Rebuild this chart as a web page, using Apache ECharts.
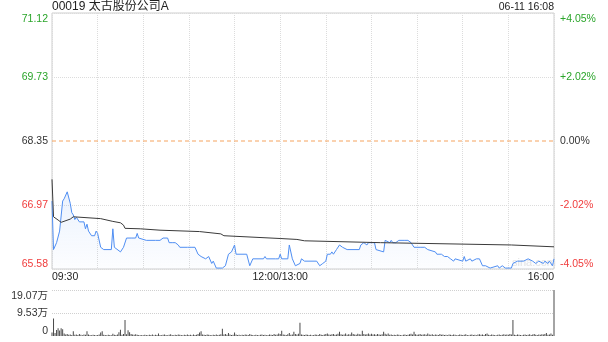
<!DOCTYPE html>
<html><head><meta charset="utf-8">
<script src="https://cdn.jsdelivr.net/npm/echarts@6/dist/echarts.min.js"></script>
<style>html,body{margin:0;padding:0;background:#fff}#c{width:608px;height:342px}</style>
</head><body><div id="c"></div>
<script>
const stockTitle = '00019 太古股份公司A';
const stampText = '06-11 16:08';
const preClose = 68.35;
const priceMin = 65.58, priceMax = 71.12;
const leftLabels = ['65.58', '66.97', '68.35', '69.73', '71.12'];
const rightLabels = ['-4.05%', '-2.02%', '0.00%', '+2.02%', '+4.05%'];
const volLabels = ['0', '9.53万', '19.07万'];
const volMax = 19.07;
const timeTicks = [0, 150, 330];
const timeLabels = ['09:30', '12:00/13:00', '16:00'];

const priceT = [0,1,3,5,7,8,10,11,12,13,14,15,16,18,21,22,23,24,26,28,29,30,32,34,39,40,41,45,47,49,52,55,56,57,62,68,71,73,76,77,79,81,83,84,89,92,94,96,98,101,103,105,106,108,112,114,116,118,120,121,128,130,132,139,140,141,147,149,150,151,155,156,158,160,163,164,166,174,176,178,180,181,183,184,185,187,189,190,191,194,202,203,205,207,208,212,213,218,219,222,223,224,226,228,232,234,236,238,242,245,247,252,253,256,258,260,262,264,265,270,271,272,275,276,279,281,283,285,288,293,294,296,298,302,303,306,310,313,316,318,320,323,324,326,327,329,330];
const priceV = [67.05,66.00,66.15,66.40,67.05,67.10,67.25,67.25,67.00,66.80,66.75,66.65,66.70,66.60,66.60,66.45,66.55,66.40,66.30,66.30,66.40,66.35,66.05,66.00,66.00,66.45,66.05,65.95,66.05,66.25,66.25,66.25,66.35,66.25,66.20,66.20,66.20,66.25,66.25,66.15,66.15,66.15,66.10,66.05,66.05,66.05,66.05,65.90,65.85,65.80,65.85,65.70,65.75,65.60,65.60,65.65,65.90,65.95,66.10,65.90,65.90,65.65,65.80,65.80,65.85,65.80,65.80,65.80,65.90,65.80,65.80,66.10,65.80,65.65,65.70,65.80,65.75,65.75,65.65,65.70,65.75,65.90,65.90,65.95,65.90,66.00,66.10,66.10,66.05,66.00,66.00,66.10,66.15,66.10,66.15,66.15,66.00,65.95,66.20,66.15,66.20,66.15,66.15,66.20,66.20,66.20,66.15,66.05,66.05,66.05,66.00,65.95,65.90,65.90,65.85,65.85,65.80,65.75,65.80,65.75,65.85,65.75,65.80,65.75,65.80,65.80,65.65,65.65,65.60,65.65,65.60,65.65,65.60,65.60,65.70,65.75,65.75,65.80,65.75,65.70,65.75,65.70,65.75,65.70,65.75,65.65,65.80];

const avgT = [0,1,4,6,7,12,14,32,40,45,47,48,58,71,97,111,113,150,161,166,216,302,303,330];
const avgV = [67.52,66.71,66.64,66.59,66.63,66.66,66.71,66.67,66.61,66.58,66.53,66.46,66.45,66.42,66.39,66.34,66.30,66.24,66.22,66.19,66.15,66.10,66.08,66.06];

// per-minute volume, in 万 shares (index = minutes since 09:30, lunch removed)
const volumes = [
1.5,7.3,1.2,2.5,3.2,2.3,3.2,2.8,1.0,0.6,0.8,0.5,0.6,0.4,2.0,0.5,0.6,0.4,0.8,0.5,0.3,0.6,0.5,2.0,0.6,0.4,0.3,0.5,0.4,0.3,
0.4,0.6,1.4,2.0,0.5,0.4,0.3,0.5,0.4,0.3,0.9,0.5,0.4,0.6,1.6,2.6,0.5,0.8,6.6,0.7,2.4,1.6,0.8,0.6,0.5,0.7,0.5,0.4,0.3,0.4,
0.3,0.5,0.4,0.3,0.5,0.4,0.6,0.3,0.5,0.4,1.0,0.4,0.3,0.5,0.6,0.4,0.3,0.5,0.7,0.4,0.3,0.5,0.4,0.6,0.5,0.4,0.3,0.5,0.4,0.6,
0.4,0.5,0.3,0.6,0.4,0.5,0.8,1.5,2.0,0.6,0.5,0.4,0.6,0.5,0.4,0.3,0.5,0.4,0.6,0.4,0.5,0.7,3.0,0.6,0.8,0.5,1.2,0.6,0.4,0.5,
1.5,0.6,0.4,0.5,0.3,0.5,0.4,0.6,0.5,0.4,0.8,0.5,0.4,0.3,0.5,0.4,0.3,0.5,0.6,0.4,0.5,0.3,0.4,0.6,0.5,0.4,0.8,0.5,0.6,1.0,
0.8,2.2,0.6,0.5,0.4,0.7,1.2,0.5,0.6,1.8,0.8,0.6,0.9,5.5,0.6,0.5,0.4,0.6,0.5,0.4,0.5,0.3,0.4,0.6,0.5,0.4,0.8,0.5,0.4,0.6,
0.8,1.0,0.6,0.5,0.7,0.8,0.5,0.6,0.9,1.8,0.7,0.5,0.6,1.0,0.5,0.7,0.6,1.5,0.8,0.6,0.5,0.9,0.7,0.6,2.2,0.8,0.6,0.7,1.0,0.6,
0.9,0.6,0.7,0.5,0.8,0.6,0.5,0.7,1.8,0.9,0.6,1.0,0.5,0.6,0.4,0.5,0.4,0.6,0.5,0.4,0.3,0.5,0.6,0.4,0.5,0.7,0.9,0.6,1.8,0.7,
0.5,0.6,0.8,0.5,0.6,0.7,0.5,1.0,0.6,0.5,0.7,0.4,0.6,0.5,0.4,0.8,0.5,0.6,0.4,0.5,0.3,0.6,0.5,0.4,0.6,0.5,0.3,0.4,0.6,0.5,
0.4,0.5,0.7,0.4,0.3,0.5,0.6,0.4,0.5,0.3,0.6,0.7,0.5,0.6,0.4,0.8,1.0,0.5,0.4,0.6,0.5,0.4,0.3,0.5,0.6,0.4,0.5,0.7,0.5,0.6,
0.5,0.8,0.6,6.6,0.5,0.4,0.6,0.5,0.4,0.3,0.5,0.6,0.4,0.5,0.7,0.4,0.6,0.8,0.5,0.4,0.6,0.5,0.7,0.6,0.8,1.2,0.5,0.6,1.0,0.5,
19.07
];

const FONT = '"Liberation Sans", Arial, "Noto Sans CJK SC", sans-serif';
const GREEN = '#2aa52a', RED = '#f03c3c', DARK = '#333333';

function richFor(color) {
  return { fontSize: 10.5, fontFamily: FONT, color: color };
}
const rich = {};
[['g', GREEN], ['r', RED], ['k', DARK]].forEach(([k, c]) => {
  rich['t' + k] = Object.assign(richFor(c), { padding: [12, 0, 0, 0] });
  rich['b' + k] = Object.assign(richFor(c), { padding: [0, 0, 10, 0] });
  rich['m' + k] = richFor(c);
});
function ck(i) { return i > 2 ? 'g' : (i < 2 ? 'r' : 'k'); }
function fmtPrice(labels, last) {
  return function (v) {
    const i = Math.round(v);
    const pos = i === last ? 't' : (i === 0 ? 'b' : 'm');
    return '{' + pos + ck(i) + '|' + labels[i] + '}';
  };
}
function fmtVol(v) {
  const i = Math.round(v);
  const pos = i === 2 ? 't' : (i === 0 ? 'b' : 'm');
  return '{' + pos + 'k|' + volLabels[i] + '}';
}
const volRich = {
  tk: { fontSize: 10.5, fontFamily: FONT, color: DARK, padding: [12, 0, 0, 0] },
  bk: { fontSize: 10.5, fontFamily: FONT, color: DARK, padding: [0, 0, 9, 0] },
  mk: { fontSize: 10.5, fontFamily: FONT, color: DARK }
};

const priceData = priceT.map((t, i) => [t, priceV[i]]);
const avgData = avgT.map((t, i) => [t, avgV[i]]);
const volData = volumes.map((v, i) => [i, v]);
const preCloseData = [[timeTicks[0], preClose], [timeTicks[timeTicks.length - 1], preClose]];

const chart = echarts.init(document.getElementById('c'), null, { renderer: 'canvas' });
chart.setOption({
  animation: false,
  textStyle: { fontFamily: FONT },
  title: [
    { text: stockTitle, left: 52, top: 1, padding: 0,
      textStyle: { fontSize: 12, fontWeight: 'normal', color: '#222', fontFamily: FONT } },
    { text: stampText, right: 54, top: 2, padding: 0,
      textStyle: { fontSize: 10.5, fontWeight: 'normal', color: '#222', fontFamily: FONT } }
  ],
  graphic: [
    { type: 'text', left: 512, top: 257, z: 0, silent: true,
      style: { text: 'sina.com', fill: '#e4e4e4', font: '11px ' + FONT } }
  ],
  grid: [
    { left: 52, top: 13, width: 502, height: 256, show: true, borderColor: '#cfcfcf', borderWidth: 1, backgroundColor: 'transparent' },
    { left: 52, top: 290, width: 502, height: 46 }
  ],
  xAxis: [
    { type: 'value', gridIndex: 0, min: 0, max: 330, interval: 30,
      axisLine: { show: false }, axisTick: { show: false },
      splitLine: { show: true, lineStyle: { color: '#dcdcdc', type: 'dotted', width: 1 } },
      axisLabel: {
        margin: 3, fontSize: 10.5, color: '#222', fontFamily: FONT,
        alignMinLabel: 'left', alignMaxLabel: 'right',
        formatter: v => { const i = timeTicks.indexOf(v); return i >= 0 ? timeLabels[i] : ''; }
      } },
    { type: 'value', gridIndex: 1, min: 0, max: 330, show: false }
  ],
  yAxis: [
    { type: 'value', gridIndex: 0, min: priceMin, max: priceMax, show: false, position: 'left' },
    { type: 'value', gridIndex: 0, min: 0, max: 4, interval: 1, position: 'left',
      axisLine: { show: false }, axisTick: { show: false },
      splitLine: { show: true, lineStyle: { color: ['#dcdcdc', '#dcdcdc', 'rgba(0,0,0,0)', '#dcdcdc', '#dcdcdc'], type: 'dotted' } },
      axisLabel: { margin: 4, rich: rich, formatter: fmtPrice(leftLabels, 4) } },
    { type: 'value', gridIndex: 0, min: 0, max: 4, interval: 1, position: 'right',
      axisLine: { show: false }, axisTick: { show: false }, splitLine: { show: false },
      axisLabel: { margin: 6, rich: rich, formatter: fmtPrice(rightLabels, 4) } },
    { type: 'value', gridIndex: 1, min: 0, max: volMax, show: false, position: 'left' },
    { type: 'value', gridIndex: 1, min: 0, max: 2, interval: 1, position: 'left',
      axisLine: { show: false }, axisTick: { show: false },
      splitLine: { show: true, lineStyle: { color: ['rgba(0,0,0,0)', '#d0d0d0', '#d0d0d0'], type: 'dotted' } },
      axisLabel: { margin: 4, rich: volRich, formatter: fmtVol } }
  ],
  series: [
    { type: 'line', name: 'preClose', xAxisIndex: 0, yAxisIndex: 0, data: preCloseData,
      showSymbol: false, symbol: 'none', z: 2, silent: true,
      lineStyle: { color: '#f5a35f', type: [4, 3], width: 1 } },
    { type: 'line', name: 'price', xAxisIndex: 0, yAxisIndex: 0, data: priceData,
      showSymbol: false, symbol: 'none', z: 3,
      lineStyle: { color: '#4f8ef2', width: 1 },
      areaStyle: { origin: 'start', color: new echarts.graphic.LinearGradient(0, 0, 0, 1, [
        { offset: 0, color: 'rgba(79,142,242,0.16)' }, { offset: 1, color: 'rgba(79,142,242,0.02)' }]) } },
    { type: 'line', name: 'avg', xAxisIndex: 0, yAxisIndex: 0, data: avgData,
      showSymbol: false, symbol: 'none', z: 4,
      lineStyle: { color: '#3a3a3a', width: 1 } },
    { type: 'bar', name: 'vol', xAxisIndex: 1, yAxisIndex: 3, data: volData,
      barWidth: 1, itemStyle: { color: '#4a4a4a' } }
  ]
});
</script></body></html>
